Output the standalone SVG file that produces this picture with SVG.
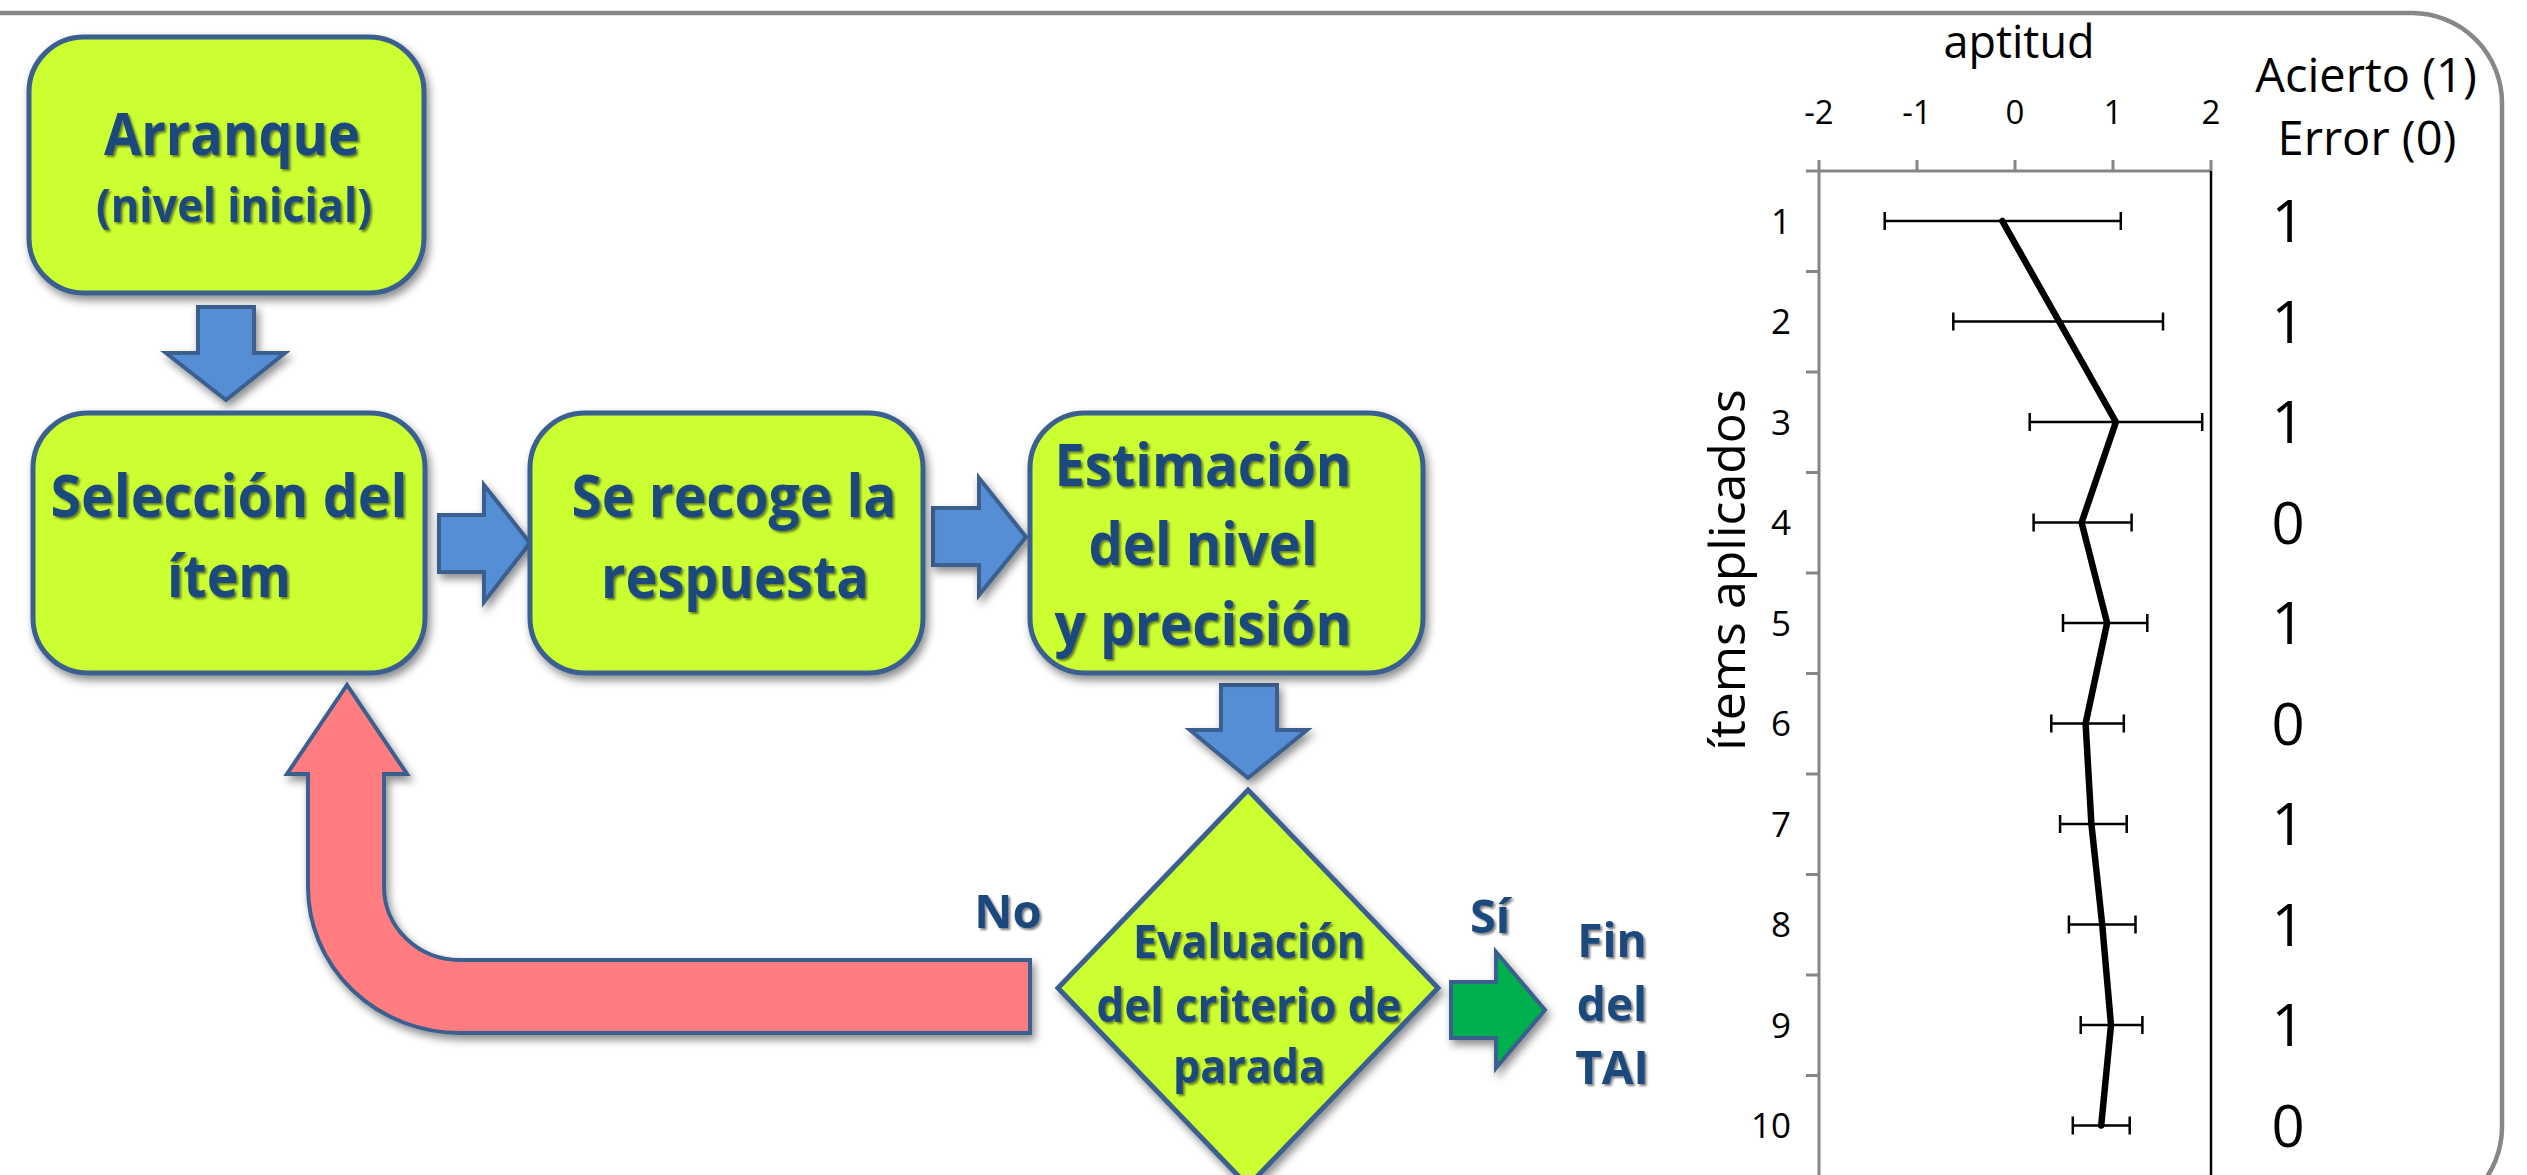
<svg xmlns="http://www.w3.org/2000/svg" width="2527" height="1175" viewBox="0 0 2527 1175">
<defs>
<filter id="sh" x="-10%" y="-10%" width="130%" height="130%"><feDropShadow dx="3" dy="5" stdDeviation="4" flood-color="#000" flood-opacity="0.45"/></filter>
<filter id="tsh" x="-5%" y="-20%" width="115%" height="150%"><feDropShadow dx="2" dy="2" stdDeviation="1.3" flood-color="#000" flood-opacity="0.5"/></filter>
<style>
.box{fill:#CCFF33;stroke:#3A5F8E;stroke-width:5;filter:url(#sh)}
.ba{fill:#558ED5;stroke:#3A5F8E;stroke-width:4;stroke-linejoin:miter;filter:url(#sh)}
.ra{fill:#FF7C80;stroke:#3A5F8E;stroke-width:4;filter:url(#sh)}
.ga{fill:#00B050;stroke:#3A5F8E;stroke-width:4;filter:url(#sh)}
.t{font-family:"Open Sans","Noto Sans",sans-serif;font-weight:bold;fill:#1F497D;text-anchor:middle;filter:url(#tsh)}
.c{font-family:"Open Sans","Noto Sans",sans-serif;fill:#000}
.ax{stroke:#868686;stroke-width:3;fill:none}
.eb{stroke:#000;stroke-width:2.5;fill:none}
</style>
</defs>
<rect width="2527" height="1175" fill="#fff"/>
<path d="M0 13 H2412 A90 90 0 0 1 2502 103 V1127 A90 90 0 0 1 2412 1217" fill="none" stroke="#878787" stroke-width="4.5"/>

<g id="connectors">
<path class="ba" d="M198 307 H254 V353 H285 L226 400 L166 353 H198 Z"/>
<path class="ba" d="M439 515 H484 V485 L530 543 L484 602 V572 H439 Z"/>
<path class="ba" d="M933 508 H979 V478 L1026 537 L979 595 V565 H933 Z"/>
<path class="ba" d="M1221 685 H1277 V730 H1307 L1248 778 L1190 730 H1221 Z"/>
<path class="ra" d="M1030 960 H460 A76 73 0 0 1 384 887 V774 H407 L347 685 L287 774 H308 V887 A152 146 0 0 0 460 1033 H1030 Z"/>
<path class="ga" d="M1451 982 H1496 V952 L1545 1010 L1496 1068 V1038 H1451 Z"/>
<text class="t" x="1008" y="928" font-size="47">No</text>
<text class="t" x="1490" y="933" font-size="47">Sí</text>
</g>

<g id="n-arranque">
<rect class="box" x="29" y="37" width="395" height="256" rx="55"/>
<text class="t" x="232" y="155" font-size="59" textLength="256" lengthAdjust="spacingAndGlyphs">Arranque</text>
<text class="t" x="234" y="222" font-size="47" textLength="276" lengthAdjust="spacingAndGlyphs">(nivel inicial)</text>
</g>
<g id="n-seleccion">
<rect class="box" x="33" y="413" width="392" height="260" rx="55"/>
<text class="t" x="229" y="517" font-size="59" textLength="357" lengthAdjust="spacingAndGlyphs">Selección del</text>
<text class="t" x="229" y="597" font-size="59" textLength="124" lengthAdjust="spacingAndGlyphs">ítem</text>
</g>
<g id="n-respuesta">
<rect class="box" x="530" y="413" width="393" height="260" rx="55"/>
<text class="t" x="734" y="517" font-size="59" textLength="325" lengthAdjust="spacingAndGlyphs">Se recoge la</text>
<text class="t" x="735" y="598" font-size="59" textLength="268" lengthAdjust="spacingAndGlyphs">respuesta</text>
</g>
<g id="n-estimacion">
<rect class="box" x="1030" y="413" width="393" height="260" rx="55"/>
<text class="t" x="1203" y="486" font-size="59" textLength="297" lengthAdjust="spacingAndGlyphs">Estimación</text>
<text class="t" x="1203" y="565" font-size="59" textLength="229" lengthAdjust="spacingAndGlyphs">del nivel</text>
<text class="t" x="1203" y="645" font-size="59" textLength="297" lengthAdjust="spacingAndGlyphs">y precisión</text>
</g>
<g id="n-evaluacion">
<path class="box" d="M1248 790 L1438 988 L1248 1186 L1058 988 Z"/>
<text class="t" x="1249" y="958" font-size="47" textLength="232" lengthAdjust="spacingAndGlyphs">Evaluación</text>
<text class="t" x="1249" y="1022" font-size="47" textLength="305" lengthAdjust="spacingAndGlyphs">del criterio de</text>
<text class="t" x="1249" y="1083" font-size="47" textLength="152" lengthAdjust="spacingAndGlyphs">parada</text>
</g>
<g id="n-fin">
<text class="t" x="1612" y="957" font-size="46">Fin</text>
<text class="t" x="1612" y="1021" font-size="46">del</text>
<text class="t" x="1612" y="1084" font-size="46">TAI</text>
</g>

<g id="chart">
<text class="c" x="2019" y="58" font-size="45" text-anchor="middle">aptitud</text>
<g font-size="33" text-anchor="middle" class="c">
<text class="c" x="1819" y="124">-2</text>
<text class="c" x="1917" y="124">-1</text>
<text class="c" x="2015" y="124">0</text>
<text class="c" x="2113" y="124">1</text>
<text class="c" x="2211" y="124">2</text>
</g>
<text class="c" x="2366" y="92" font-size="47" text-anchor="middle">Acierto (1)</text>
<text class="c" x="2367" y="155" font-size="47" text-anchor="middle">Error (0)</text>
<text class="c" transform="translate(1745 570) rotate(-90)" font-size="50" text-anchor="middle">ítems aplicados</text>
<path class="ax" d="M1819 171 H2211 M1819 160 V171 M1917 160 V171 M2015 160 V171 M2113 160 V171 M2211 160 V171 M1819 171 V1175"/>
<path class="ax" d="M1806 171 H1819 M1806 271.5 H1819 M1806 372 H1819 M1806 472.5 H1819 M1806 573 H1819 M1806 673.5 H1819 M1806 774 H1819 M1806 874.5 H1819 M1806 975 H1819 M1806 1075.5 H1819"/>
<path d="M2211 171 V1175" stroke="#000" stroke-width="2.5"/>
<g font-size="35" text-anchor="end">
<text class="c" x="1791" y="233.5">1</text>
<text class="c" x="1791" y="334">2</text>
<text class="c" x="1791" y="434.5">3</text>
<text class="c" x="1791" y="535">4</text>
<text class="c" x="1791" y="635.5">5</text>
<text class="c" x="1791" y="736">6</text>
<text class="c" x="1791" y="836.5">7</text>
<text class="c" x="1791" y="937">8</text>
<text class="c" x="1791" y="1037.5">9</text>
<text class="c" x="1791" y="1138">10</text>
</g>
<path class="eb" d="M1884.7 221 H2120.8 M1884.7 212 V230 M2120.8 212 V230
M1953.3 321.5 H2163 M1953.3 312.5 V330.5 M2163 312.5 V330.5
M2029.7 422 H2202.2 M2029.7 413 V431 M2202.2 413 V431
M2033.6 522.5 H2131.6 M2033.6 513.5 V531.5 M2131.6 513.5 V531.5
M2063 623 H2147.3 M2063 614 V632 M2147.3 614 V632
M2051.3 723.5 H2123.8 M2051.3 714.5 V732.5 M2123.8 714.5 V732.5
M2060.1 824 H2126.7 M2060.1 815 V833 M2126.7 815 V833
M2068.9 924.5 H2135.5 M2068.9 915.5 V933.5 M2135.5 915.5 V933.5
M2080.7 1025 H2142.4 M2080.7 1016 V1034 M2142.4 1016 V1034
M2072.8 1125.5 H2129.7 M2072.8 1116.5 V1134.5 M2129.7 1116.5 V1134.5"/>
<polyline points="2002.3,221 2059.1,321.5 2115.9,422 2081.6,522.5 2107.1,623 2085.6,723.5 2091.4,824 2102.2,924.5 2111,1025 2101.2,1125.5" fill="none" stroke="#000" stroke-width="6.5" stroke-linejoin="round" stroke-linecap="round"/>
<g font-size="58" text-anchor="middle">
<text class="c" x="2288" y="242">1</text>
<text class="c" x="2288" y="342.5">1</text>
<text class="c" x="2288" y="443">1</text>
<text class="c" x="2288" y="543.5">0</text>
<text class="c" x="2288" y="644">1</text>
<text class="c" x="2288" y="744.5">0</text>
<text class="c" x="2288" y="845">1</text>
<text class="c" x="2288" y="945.5">1</text>
<text class="c" x="2288" y="1046">1</text>
<text class="c" x="2288" y="1146.5">0</text>
</g>
</g>
</svg>
